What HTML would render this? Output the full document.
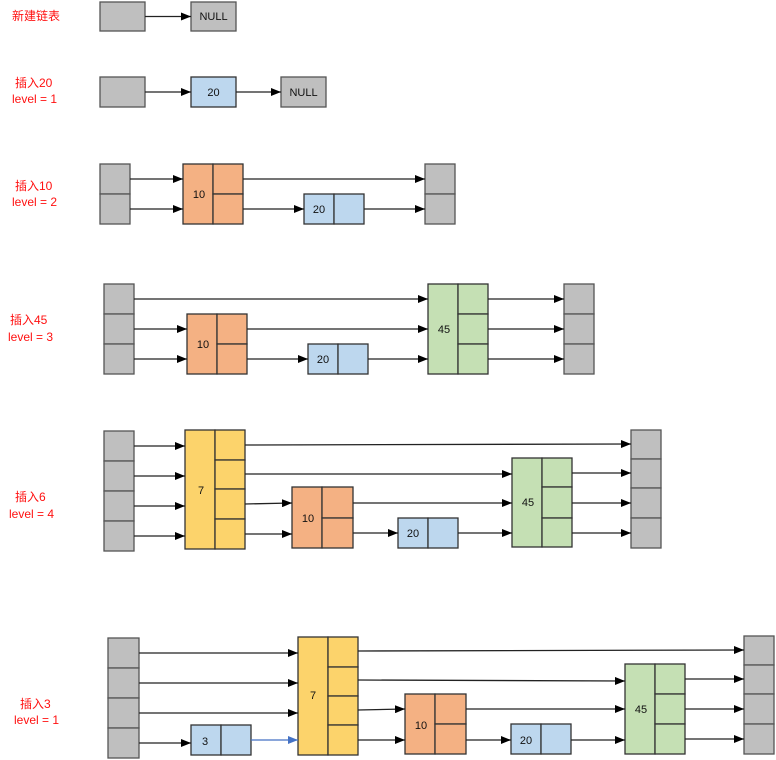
<!DOCTYPE html>
<html><head><meta charset="utf-8"><style>
html,body{margin:0;padding:0;background:#fff;width:776px;height:760px;overflow:hidden}
svg{display:block}
.g{fill:#bfbfbf;stroke:#555;stroke-width:1.3}
.b{fill:#bdd7ee;stroke:#333;stroke-width:1.3}
.o{fill:#f4b183;stroke:#333;stroke-width:1.3}
.gr{fill:#c5e0b4;stroke:#333;stroke-width:1.3}
.y{fill:#fcd36b;stroke:#333;stroke-width:1.3}
.ln{stroke:#333;stroke-width:1.3;fill:none}
.a{stroke:#222;stroke-width:1.3;fill:none;marker-end:url(#m)}
.ab{stroke:#4472c4;stroke-width:1.3;fill:none;marker-end:url(#mb)}
.t{font-family:"Liberation Sans",sans-serif;font-size:11px;fill:#111}
.r{font-family:"Liberation Sans","Noto Sans CJK SC",sans-serif;font-size:12px;fill:#ff1010}
</style></head><body>
<svg width="776" height="760" viewBox="0 0 776 760" xmlns="http://www.w3.org/2000/svg">
<defs>
<marker id="m" markerWidth="10" markerHeight="8" refX="10" refY="4" orient="auto" markerUnits="userSpaceOnUse"><path d="M0,0 L10,4 L0,8 Z" fill="#000"/></marker>
<marker id="mb" markerWidth="10" markerHeight="8" refX="10" refY="4" orient="auto" markerUnits="userSpaceOnUse"><path d="M0,0 L10,4 L0,8 Z" fill="#4472c4"/></marker>
</defs>

<!-- labels -->
<text class="r" x="12" y="20">新建链表</text>
<text class="r" x="15" y="87">插入20</text>
<text class="r" x="12" y="103">level = 1</text>
<text class="r" x="15" y="190">插入10</text>
<text class="r" x="12" y="206">level = 2</text>
<text class="r" x="10" y="324">插入45</text>
<text class="r" x="8" y="341">level = 3</text>
<text class="r" x="15" y="501">插入6</text>
<text class="r" x="9" y="518">level = 4</text>
<text class="r" x="20" y="708">插入3</text>
<text class="r" x="14" y="724">level = 1</text>

<!-- section 1 -->
<rect class="g" x="100" y="2" width="45" height="29"/>
<rect class="g" x="191" y="2" width="45" height="29"/>
<text class="t" x="213.5" y="20" text-anchor="middle">NULL</text>
<line class="a" x1="145" y1="16.5" x2="191" y2="16.5"/>

<!-- section 2 -->
<rect class="g" x="100" y="77" width="45" height="30"/>
<rect class="b" x="191" y="77" width="45" height="30"/>
<text class="t" x="213.5" y="96" text-anchor="middle">20</text>
<rect class="g" x="281" y="77" width="45" height="30"/>
<text class="t" x="303.5" y="96" text-anchor="middle">NULL</text>
<line class="a" x1="145" y1="92" x2="191" y2="92"/>
<line class="a" x1="236" y1="92" x2="281" y2="92"/>

<!-- section 3 -->
<rect class="g" x="100" y="164" width="30" height="30"/><rect class="g" x="100" y="194" width="30" height="30"/>
<rect class="o" x="183" y="164" width="30" height="60"/><rect class="o" x="213" y="164" width="30" height="30"/><rect class="o" x="213" y="194" width="30" height="30"/>
<text class="t" x="199" y="198" text-anchor="middle">10</text>
<rect class="b" x="304" y="194" width="30" height="30"/><rect class="b" x="334" y="194" width="30" height="30"/>
<text class="t" x="319" y="213" text-anchor="middle">20</text>
<rect class="g" x="425" y="164" width="30" height="30"/><rect class="g" x="425" y="194" width="30" height="30"/>
<line class="a" x1="130" y1="179" x2="183" y2="179"/>
<line class="a" x1="130" y1="209" x2="183" y2="209"/>
<line class="a" x1="243" y1="179" x2="425" y2="179"/>
<line class="a" x1="243" y1="209" x2="304" y2="209"/>
<line class="a" x1="364" y1="209" x2="425" y2="209"/>

<!-- section 4 -->
<rect class="g" x="104" y="284" width="30" height="30"/><rect class="g" x="104" y="314" width="30" height="30"/><rect class="g" x="104" y="344" width="30" height="30"/>
<rect class="o" x="187" y="314" width="30" height="60"/><rect class="o" x="217" y="314" width="30" height="30"/><rect class="o" x="217" y="344" width="30" height="30"/>
<text class="t" x="203" y="348" text-anchor="middle">10</text>
<rect class="b" x="308" y="344" width="30" height="30"/><rect class="b" x="338" y="344" width="30" height="30"/>
<text class="t" x="323" y="363" text-anchor="middle">20</text>
<rect class="gr" x="428" y="284" width="30" height="90"/><rect class="gr" x="458" y="284" width="30" height="30"/><rect class="gr" x="458" y="314" width="30" height="30"/><rect class="gr" x="458" y="344" width="30" height="30"/>
<text class="t" x="444" y="333" text-anchor="middle">45</text>
<rect class="g" x="564" y="284" width="30" height="30"/><rect class="g" x="564" y="314" width="30" height="30"/><rect class="g" x="564" y="344" width="30" height="30"/>
<line class="a" x1="134" y1="299" x2="428" y2="299"/>
<line class="a" x1="134" y1="329" x2="187" y2="329"/>
<line class="a" x1="134" y1="359" x2="187" y2="359"/>
<line class="a" x1="247" y1="329" x2="428" y2="329"/>
<line class="a" x1="247" y1="359" x2="308" y2="359"/>
<line class="a" x1="368" y1="359" x2="428" y2="359"/>
<line class="a" x1="488" y1="299" x2="564" y2="299"/>
<line class="a" x1="488" y1="329" x2="564" y2="329"/>
<line class="a" x1="488" y1="359" x2="564" y2="359"/>

<!-- section 5 -->
<rect class="g" x="104" y="431" width="30" height="30"/><rect class="g" x="104" y="461" width="30" height="30"/><rect class="g" x="104" y="491" width="30" height="30"/><rect class="g" x="104" y="521" width="30" height="30"/>
<rect class="y" x="185" y="430" width="30" height="119"/><rect class="y" x="215" y="430" width="30" height="30"/><rect class="y" x="215" y="460" width="30" height="29"/><rect class="y" x="215" y="489" width="30" height="30"/><rect class="y" x="215" y="519" width="30" height="30"/>
<text class="t" x="201" y="494" text-anchor="middle">7</text>
<rect class="o" x="292" y="487" width="30" height="61"/><rect class="o" x="322" y="487" width="31" height="31"/><rect class="o" x="322" y="518" width="31" height="30"/>
<text class="t" x="308" y="522" text-anchor="middle">10</text>
<rect class="b" x="398" y="518" width="30" height="30"/><rect class="b" x="428" y="518" width="30" height="30"/>
<text class="t" x="413" y="537" text-anchor="middle">20</text>
<rect class="gr" x="512" y="458" width="30" height="89"/><rect class="gr" x="542" y="458" width="30" height="29"/><rect class="gr" x="542" y="487" width="30" height="31"/><rect class="gr" x="542" y="518" width="30" height="29"/>
<text class="t" x="528" y="506" text-anchor="middle">45</text>
<rect class="g" x="631" y="430" width="30" height="29"/><rect class="g" x="631" y="459" width="30" height="29"/><rect class="g" x="631" y="488" width="30" height="30"/><rect class="g" x="631" y="518" width="30" height="30"/>
<line class="a" x1="134" y1="446" x2="185" y2="446"/>
<line class="a" x1="134" y1="476" x2="185" y2="476"/>
<line class="a" x1="134" y1="506" x2="185" y2="506"/>
<line class="a" x1="134" y1="536" x2="185" y2="536"/>
<line class="a" x1="245" y1="445" x2="631" y2="444"/>
<line class="a" x1="245" y1="474" x2="512" y2="474"/>
<line class="a" x1="245" y1="504" x2="292" y2="503"/>
<line class="a" x1="245" y1="534" x2="292" y2="534"/>
<line class="a" x1="353" y1="503" x2="512" y2="503"/>
<line class="a" x1="353" y1="533" x2="398" y2="533"/>
<line class="a" x1="458" y1="533" x2="512" y2="533"/>
<line class="a" x1="572" y1="473" x2="631" y2="473"/>
<line class="a" x1="572" y1="503" x2="631" y2="503"/>
<line class="a" x1="572" y1="533" x2="631" y2="533"/>

<!-- section 6 -->
<rect class="g" x="108" y="638" width="31" height="30"/><rect class="g" x="108" y="668" width="31" height="30"/><rect class="g" x="108" y="698" width="31" height="30"/><rect class="g" x="108" y="728" width="31" height="30"/>
<rect class="b" x="191" y="725" width="30" height="30"/><rect class="b" x="221" y="725" width="30" height="30"/>
<text class="t" x="205" y="745" text-anchor="middle">3</text>
<rect class="y" x="298" y="637" width="30" height="118"/><rect class="y" x="328" y="637" width="30" height="30"/><rect class="y" x="328" y="667" width="30" height="29"/><rect class="y" x="328" y="696" width="30" height="29"/><rect class="y" x="328" y="725" width="30" height="30"/>
<text class="t" x="313" y="699" text-anchor="middle">7</text>
<rect class="o" x="405" y="694" width="30" height="60"/><rect class="o" x="435" y="694" width="31" height="30"/><rect class="o" x="435" y="724" width="31" height="30"/>
<text class="t" x="421" y="729" text-anchor="middle">10</text>
<rect class="b" x="511" y="724" width="30" height="30"/><rect class="b" x="541" y="724" width="30" height="30"/>
<text class="t" x="526" y="744" text-anchor="middle">20</text>
<rect class="gr" x="625" y="664" width="30" height="90"/><rect class="gr" x="655" y="664" width="30" height="30"/><rect class="gr" x="655" y="694" width="30" height="30"/><rect class="gr" x="655" y="724" width="30" height="30"/>
<text class="t" x="641" y="713" text-anchor="middle">45</text>
<rect class="g" x="744" y="636" width="30" height="29"/><rect class="g" x="744" y="665" width="30" height="29"/><rect class="g" x="744" y="694" width="30" height="30"/><rect class="g" x="744" y="724" width="30" height="30"/>
<line class="a" x1="139" y1="653" x2="298" y2="653"/>
<line class="a" x1="139" y1="683" x2="298" y2="683"/>
<line class="a" x1="139" y1="713" x2="298" y2="713"/>
<line class="a" x1="139" y1="743" x2="191" y2="743"/>
<line class="ab" x1="251" y1="740" x2="298" y2="740"/>
<line class="a" x1="358" y1="651" x2="744" y2="650"/>
<line class="a" x1="358" y1="680" x2="625" y2="681"/>
<line class="a" x1="358" y1="710" x2="405" y2="709"/>
<line class="a" x1="358" y1="740" x2="405" y2="740"/>
<line class="a" x1="466" y1="709" x2="625" y2="709"/>
<line class="a" x1="466" y1="740" x2="511" y2="740"/>
<line class="a" x1="571" y1="740" x2="625" y2="740"/>
<line class="a" x1="685" y1="679" x2="744" y2="679"/>
<line class="a" x1="685" y1="709" x2="744" y2="709"/>
<line class="a" x1="685" y1="739" x2="744" y2="739"/>
</svg>
</body></html>
